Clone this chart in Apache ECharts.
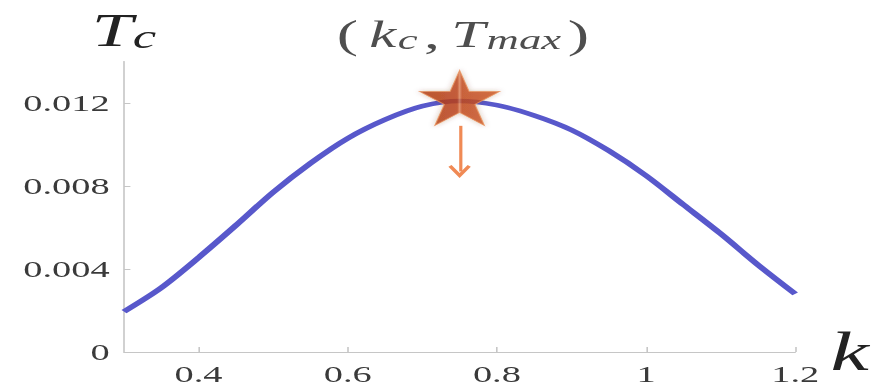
<!DOCTYPE html>
<html>
<head>
<meta charset="utf-8">
<script src="https://cdn.jsdelivr.net/npm/echarts@6/dist/echarts.min.js"></script>
<style>
  html, body { margin: 0; padding: 0; background: #fff; overflow: hidden; }
  /* the plot is laid out narrow and stretched sideways, like a wide slide figure */
  #chart { width: 554px; height: 388px; transform: scaleX(1.6); transform-origin: 0 0; }
</style>
</head>
<body>
<div id="chart"></div>
<script>
// wave number k and critical temperature T_c
const kValues  = [0.30, 0.35, 0.40, 0.45, 0.50, 0.55, 0.60, 0.65, 0.70, 0.75,
                  0.80, 0.85, 0.90, 0.95, 1.00, 1.05, 1.10, 1.15, 1.20];
const tcValues = [0.00195, 0.0031, 0.00455, 0.0061, 0.0077, 0.0091, 0.0103, 0.0112, 0.01185, 0.0121,
                  0.0119, 0.0114, 0.0107, 0.0097, 0.0085, 0.0071, 0.0057, 0.0042, 0.0028];

// maximum of the curve, (k_c, T_max)
const kPeak = 0.75;
const tPeak = 0.0121;
// downward arrow below the maximum
const arrowFrom = 0.0109;
const arrowTo = 0.0087;

const xTicks = [0.4, 0.6, 0.8, 1, 1.2];
const yTicks = [0, 0.004, 0.008, 0.012];
const xRange = [0.3, 1.2];
const yRange = [0, 0.014];

const STAR = 'path://M0,-100 L22.45,-30.9 L95.1,-30.9 L36.3,11.8 L58.8,80.9 L0,38.2 L-58.8,80.9 L-36.3,11.8 L-95.1,-30.9 L-22.45,-30.9 Z';
const CHEVRON = 'path://M50,0 L100,62 L86,72 L50,28 L14,72 L0,62 Z';

const serif = 'Liberation Serif';
const axisGray = '#c6c6c6';
const ink = '#222';
const tickInk = '#3a3a3a';

const chart = echarts.init(document.getElementById('chart'), null, { renderer: 'svg' });

chart.setOption({
  animation: false,
  backgroundColor: '#fff',
  grid: { left: 77.5, right: 57, top: 61.5, bottom: 36 },
  xAxis: {
    type: 'value',
    min: xRange[0],
    max: xRange[1],
    name: 'k',
    nameLocation: 'end',
    nameGap: 22,
    nameTextStyle: { fontFamily: serif, fontStyle: 'italic', fontSize: 54, color: ink, verticalAlign: 'middle' },
    axisLine: { lineStyle: { color: axisGray, width: 1 } },
    axisTick: { show: true, inside: true, length: 5, customValues: xTicks, lineStyle: { color: axisGray } },
    axisLabel: { customValues: xTicks, margin: 10, fontFamily: serif, fontSize: 24, color: tickInk },
    splitLine: { show: false }
  },
  yAxis: {
    type: 'value',
    min: yRange[0],
    max: yRange[1],
    name: '{v|T}{s|c}',
    nameLocation: 'end',
    nameGap: 8,
    nameTextStyle: {
      align: 'center',
      rich: {
        v: { fontFamily: serif, fontStyle: 'italic', fontSize: 46, lineHeight: 46, color: ink },
        s: { fontFamily: serif, fontStyle: 'italic', fontSize: 33, lineHeight: 24, verticalAlign: 'bottom', color: ink }
      }
    },
    axisLine: { show: true, lineStyle: { color: axisGray, width: 1 } },
    axisTick: { show: true, inside: true, length: 4, customValues: yTicks, lineStyle: { color: axisGray } },
    axisLabel: { customValues: yTicks, margin: 9, fontFamily: serif, fontSize: 24, color: tickInk },
    splitLine: { show: false }
  },
  series: [
    {
      name: 'T_c',
      type: 'line',
      data: kValues.map((k, i) => [k, tcValues[i]]),
      smooth: 0.3,
      showSymbol: false,
      lineStyle: { color: '#5858cb', width: 4.5 },
      z: 2
    },
    {
      name: 'maximum',
      type: 'scatter',
      data: [[kPeak, tPeak]],
      symbol: STAR,
      symbolSize: [50, 55],
      symbolOffset: [0, -3],
      itemStyle: {
        color: new echarts.graphic.LinearGradient(0, 0, 1, 0, [
          { offset: 0, color: '#b0380f' },
          { offset: 0.47, color: '#bd4218' },
          { offset: 0.5, color: '#e0845a' },
          { offset: 0.53, color: '#c44a1d' },
          { offset: 1, color: '#cc5520' }
        ]),
        borderColor: '#e8925c',
        borderWidth: 0.8,
        shadowBlur: 4,
        shadowColor: 'rgba(110, 50, 10, 0.35)'
      },
      label: {
        show: true,
        position: 'top',
        distance: 16,
        offset: [2, 0],
        formatter: '{p|(}{v|k}{s|c}{p|,}{v|T}{s|max}{p|)}',
        rich: {
          p: { fontFamily: serif, fontSize: 40, lineHeight: 40, color: ink, padding: [0, 4, 0, 4] },
          v: { fontFamily: serif, fontStyle: 'italic', fontSize: 38, lineHeight: 40, color: ink, padding: [0, 1, 0, 3] },
          s: { fontFamily: serif, fontStyle: 'italic', fontSize: 28, lineHeight: 14, verticalAlign: 'bottom', color: ink }
        }
      },
      markLine: {
        silent: true,
        symbol: ['none', CHEVRON],
        symbolSize: [14, 13],
        label: { show: false },
        lineStyle: { color: '#f08a55', width: 2, type: 'solid' },
        data: [[{ coord: [kPeak, arrowFrom] }, { coord: [kPeak, arrowTo] }]]
      },
      z: 5
    }
  ]
});
</script>
</body>
</html>
